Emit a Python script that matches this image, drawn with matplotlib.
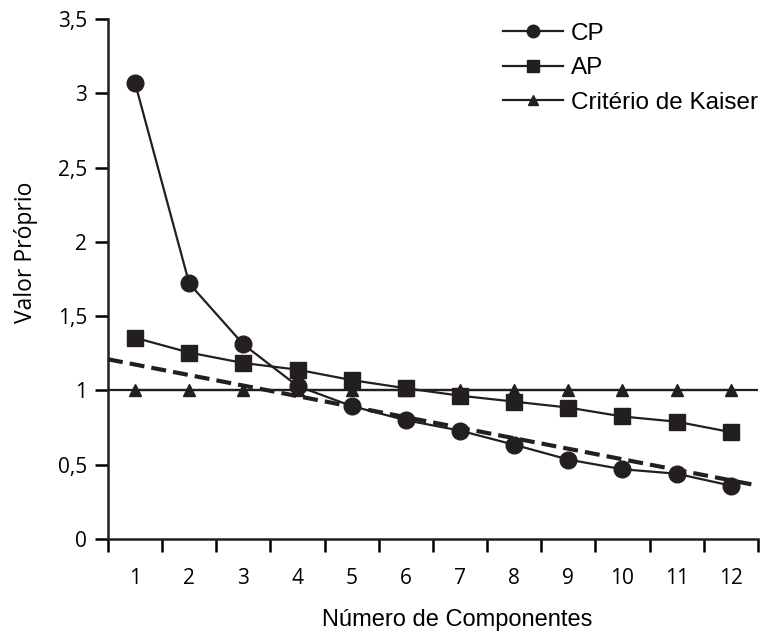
import numpy as np
import matplotlib.pyplot as plt

plt.rc('font', family='Liberation Sans', size=15)

componentes = np.arange(1, 13)
cp = [3.07, 1.72, 1.31, 1.03, 0.895, 0.80, 0.73, 0.635, 0.535, 0.47, 0.44, 0.36]
ap = [1.355, 1.255, 1.185, 1.14, 1.07, 1.015, 0.965, 0.925, 0.885, 0.825, 0.79, 0.72]
kaiser = [1.0] * 12
tendencia_x = [0.5, 12.5]
tendencia_y = [1.21, 0.36]

yticks = [0, 0.5, 1, 1.5, 2, 2.5, 3, 3.5]
ylabels = ['0', '0,5', '1', '1,5', '2', '2,5', '3', '3,5']

fig = plt.figure(figsize=(7.61, 6.32), dpi=100)
ax = fig.add_axes([0.1419, 0.147, 0.854, 0.823])

ax.axhline(1.0, color='#231f20', linewidth=1.6, zorder=1)
ax.plot(componentes, kaiser, marker='^', markersize=9, color='#231f20',
        linewidth=1.6, label='Critério de Kaiser', zorder=2)
ax.plot(componentes, ap, marker='s', markersize=11, color='#231f20',
        linewidth=1.6, label='AP', zorder=3)
ax.plot(componentes, cp, marker='o', markersize=12, color='#231f20',
        linewidth=1.6, label='CP', zorder=4)
ax.plot(tendencia_x, tendencia_y, color='#231f20', linewidth=3.0,
        dashes=(3.6, 1.7), zorder=5, clip_on=False)

ax.set_xlim(0.5, 12.5)
ax.set_ylim(0, 3.5)

# ticks nos limites das categorias, rótulos no centro
ax.set_xticks(np.arange(0.5, 13, 1))
ax.set_xticklabels([])
ax.set_xticks(componentes, minor=True)
ax.set_xticklabels([str(c) for c in componentes], minor=True,
                   family='Open Sans', fontsize=15)
ax.tick_params(axis='x', which='major', direction='out', length=9.5, width=1.8)
ax.tick_params(axis='x', which='minor', length=0, pad=21)

ax.set_yticks(yticks)
ax.set_yticklabels(ylabels, family='Open Sans', fontsize=15)
ax.tick_params(axis='y', direction='out', length=9.5, width=1.8, pad=5.5)

for s in ['top', 'right']:
    ax.spines[s].set_visible(False)
for s in ['left', 'bottom']:
    ax.spines[s].set_linewidth(1.8)
    ax.spines[s].set_color('#231f20')

ax.set_ylabel('Valor Próprio', family='Open Sans', fontsize=16.5)
ax.yaxis.set_label_coords(-0.107, 0.551)
ax.set_xlabel('Número de Componentes', fontsize=17)
ax.xaxis.set_label_coords(0.537, -0.134)

handles, labels = ax.get_legend_handles_labels()
order = [2, 1, 0]
ax.legend([handles[i] for i in order], [labels[i] for i in order],
          loc='upper left', bbox_to_anchor=(0.661, 0.964), bbox_transform=fig.transFigure,
          frameon=False, borderpad=0, borderaxespad=0, markerscale=0.75,
          handlelength=2.45, handletextpad=0.33, labelspacing=0.51,
          fontsize=17.5)

fig.savefig('out.png', dpi=100)
